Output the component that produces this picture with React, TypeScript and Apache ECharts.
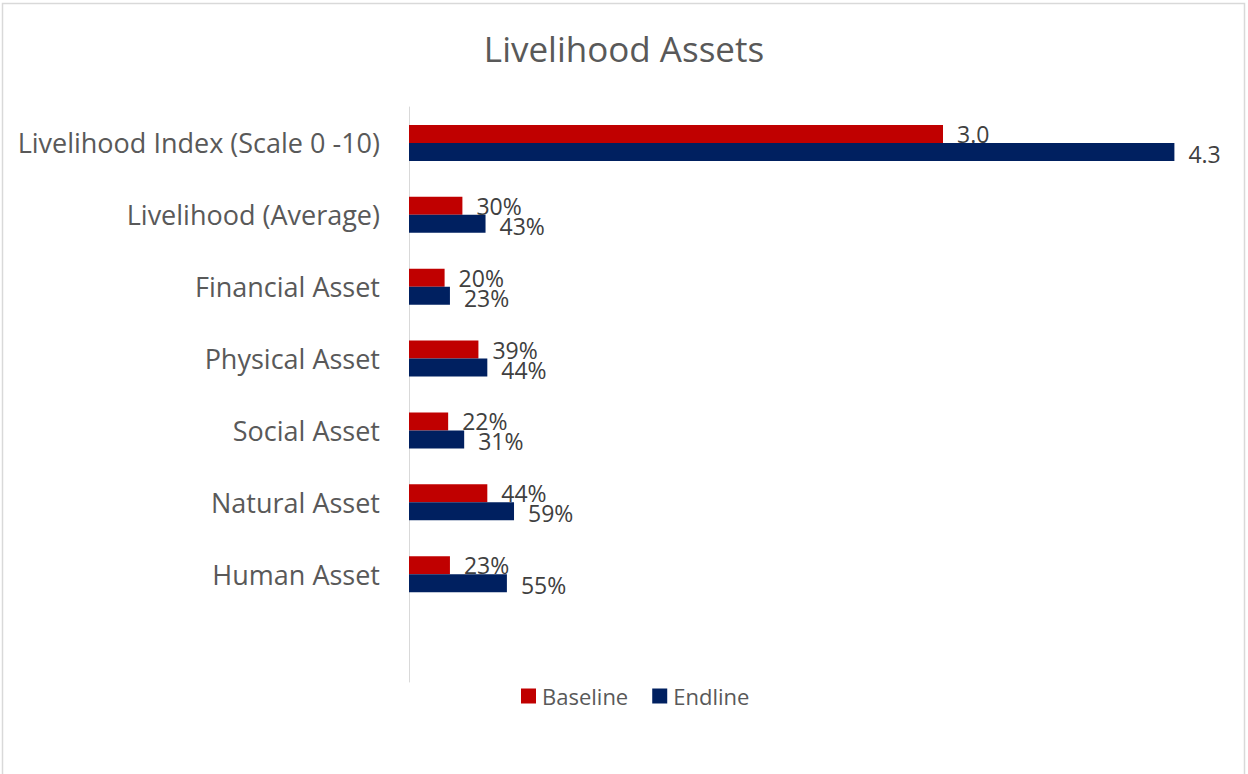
import React, { useEffect, useRef } from "react";
import * as echarts from "echarts";

const categories = [
  "Livelihood Index (Scale 0 -10)",
  "Livelihood (Average)",
  "Financial Asset",
  "Physical Asset",
  "Social Asset",
  "Natural Asset",
  "Human Asset",
  "",
];
const baseline = [3.0, 0.3, 0.2, 0.39, 0.22, 0.44, 0.23];
const endline = [4.3, 0.43, 0.23, 0.44, 0.31, 0.59, 0.55];
const seriesNames = ["Baseline", "Endline"];

const FONT = "'Open Sans', 'Noto Sans', sans-serif";

function fmt(p: any) {
  if (p.dataIndex === 0) return Number(p.value).toFixed(1);
  return Math.round(Number(p.value) * 100) + "%";
}

export default function App() {
  const ref = useRef<HTMLDivElement>(null);
  useEffect(() => {
    if (!ref.current) return;
    const chart = echarts.init(ref.current, undefined, { renderer: "svg" });
    const label = {
      show: true,
      position: "right" as const,
      distance: 14,
      formatter: fmt,
      color: "#404040",
      fontSize: 23,
      fontFamily: FONT,
    };
    chart.setOption({
      animation: false,
      backgroundColor: "#ffffff",
      textStyle: { fontFamily: FONT },
      title: {
        text: "Livelihood Assets",
        left: "center",
        top: 26,
        textStyle: { fontSize: 35, fontWeight: "normal", color: "#595959", fontFamily: FONT },
      },
      legend: {
        data: seriesNames,
        top: 680,
        left: 516,
        itemWidth: 15,
        itemHeight: 15,
        itemGap: 24,
        icon: "rect",
        textStyle: { fontSize: 22, color: "#595959", fontFamily: FONT, padding: [0, 0, 0, 1] },
      },
      grid: { left: 409, right: 38, top: 107, bottom: 92, containLabel: false },
      xAxis: {
        type: "value",
        min: 0,
        max: 4.5,
        show: false,
        splitLine: { show: false },
      },
      yAxis: {
        type: "category",
        inverse: true,
        data: categories,
        axisLine: { show: true, lineStyle: { color: "#d9d9d9", width: 1 } },
        axisTick: { show: false },
        axisLabel: { fontSize: 27, color: "#595959", margin: 29, fontFamily: FONT },
      },
      series: [
        {
          name: seriesNames[0],
          type: "bar",
          data: baseline,
          itemStyle: { color: "#C00000" },
          barGap: "0%",
          barCategoryGap: "50%",
          label,
        },
        {
          name: seriesNames[1],
          type: "bar",
          data: endline,
          itemStyle: { color: "#002060" },
          barGap: "0%",
          barCategoryGap: "50%",
          label: { ...label, offset: [0, 2] },
        },
      ],
      graphic: [
        {
          type: "rect",
          shape: { x: 2.5, y: 3.5, width: 1242, height: 800 },
          style: { fill: "none", stroke: "#d9d9d9", lineWidth: 1.5 },
          silent: true,
        },
      ],
    });
    return () => chart.dispose();
  }, []);
  return (
    <div
      ref={ref}
      style={{ position: "absolute", left: 0, top: 0, width: 1248, height: 774 }}
    />
  );
}
